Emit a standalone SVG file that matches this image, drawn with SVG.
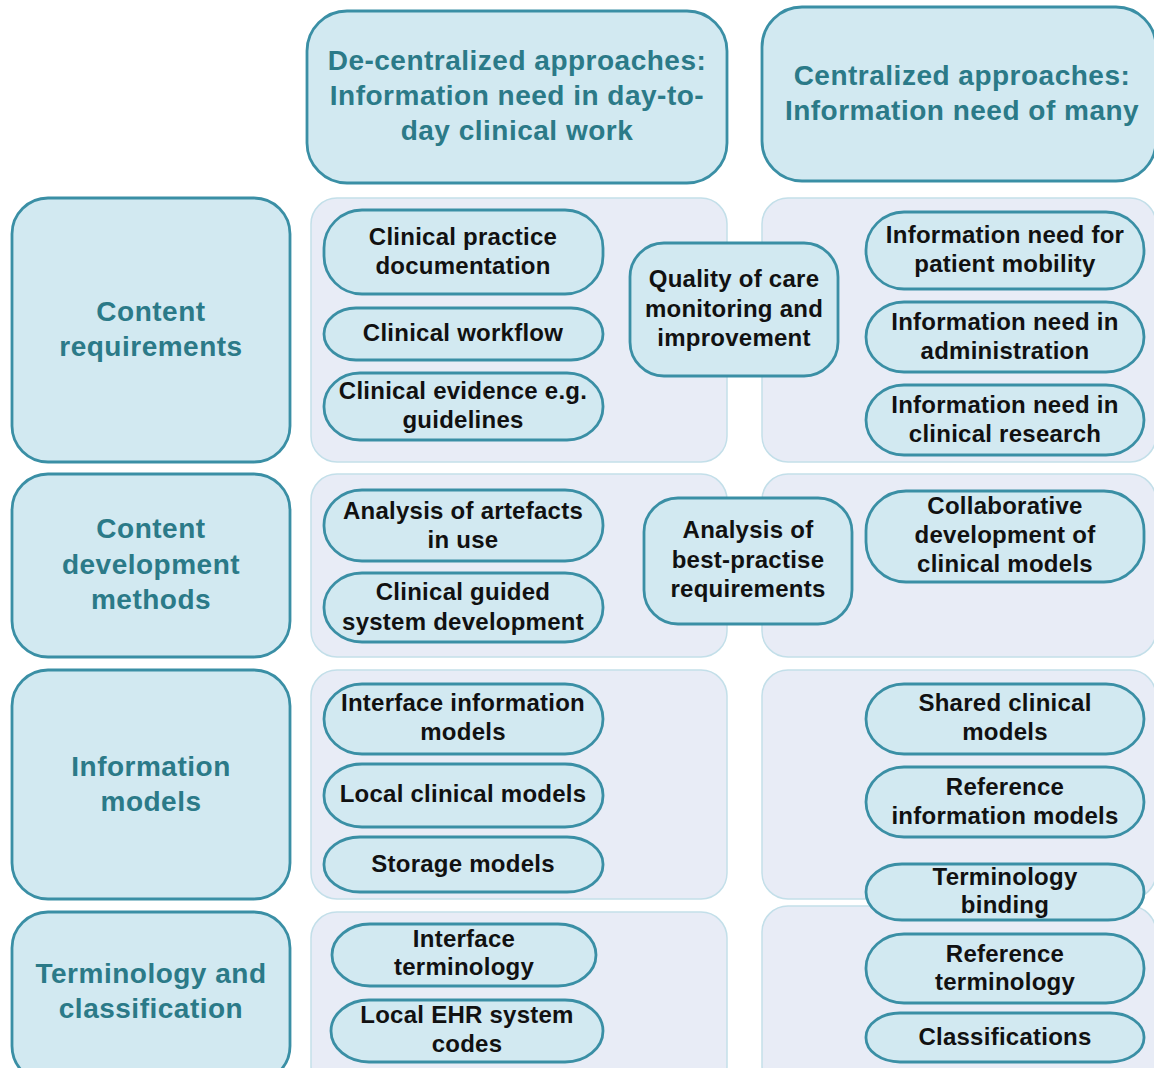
<svg xmlns="http://www.w3.org/2000/svg" width="1154" height="1068" viewBox="0 0 1154 1068">
  <style>
    .box { fill: #d2e9f1; stroke: #3a8fa5; stroke-width: 2.8; }
    .panel { fill: #e8ecf6; stroke: #c3dfe9; stroke-width: 1.5; }
    .ht { font-family: "Liberation Sans", Arial, sans-serif; font-weight: bold; font-size: 28px; letter-spacing: 0.5px; fill: #2b7a88; text-anchor: middle; }
    .nt { font-family: "Liberation Sans", Arial, sans-serif; font-weight: bold; font-size: 24px; letter-spacing: 0.25px; fill: #111111; text-anchor: middle; }
  </style>
  <rect width="1154" height="1068" fill="#ffffff"/>

  <!-- background panels per row and column -->
  <g id="panels">
    <rect class="panel" x="311" y="198" width="416" height="264" rx="26"/>
    <rect class="panel" x="762" y="198" width="394" height="264" rx="26"/>
    <rect class="panel" x="311" y="474" width="416" height="183" rx="26"/>
    <rect class="panel" x="762" y="474" width="394" height="183" rx="26"/>
    <rect class="panel" x="311" y="670" width="416" height="229" rx="26"/>
    <rect class="panel" x="762" y="670" width="394" height="229" rx="26"/>
    <rect class="panel" x="311" y="912" width="416" height="180" rx="26"/>
    <rect class="panel" x="762" y="906" width="394" height="186" rx="26"/>
  </g>

  <!-- column headers -->
  <g id="hdr-decentral">
    <rect class="box" x="307" y="11" width="420" height="172" rx="40"/>
    <text class="ht" x="517" y="70">De-centralized approaches:</text>
    <text class="ht" x="517" y="105">Information need in day-to-</text>
    <text class="ht" x="517" y="140">day clinical work</text>
  </g>
  <g id="hdr-central">
    <rect class="box" x="762" y="7" width="394" height="174" rx="40"/>
    <text class="ht" x="962" y="85">Centralized approaches:</text>
    <text class="ht" x="962" y="120">Information need of many</text>
  </g>

  <!-- row labels -->
  <g id="row-content-req">
    <rect class="box" x="12" y="198" width="278" height="264" rx="36"/>
    <text class="ht" x="151" y="321">Content</text>
    <text class="ht" x="151" y="356">requirements</text>
  </g>
  <g id="row-content-dev">
    <rect class="box" x="12" y="474" width="278" height="183" rx="36"/>
    <text class="ht" x="151" y="538">Content</text>
    <text class="ht" x="151" y="574">development</text>
    <text class="ht" x="151" y="609">methods</text>
  </g>
  <g id="row-info-models">
    <rect class="box" x="12" y="670" width="278" height="229" rx="36"/>
    <text class="ht" x="151" y="776">Information</text>
    <text class="ht" x="151" y="811">models</text>
  </g>
  <g id="row-terminology">
    <rect class="box" x="12" y="912" width="278" height="170" rx="36"/>
    <text class="ht" x="151" y="983">Terminology and</text>
    <text class="ht" x="151" y="1018">classification</text>
  </g>

  <!-- content requirements -->
  <g id="n-clin-practice">
    <rect class="box" x="324" y="210" width="279" height="84" rx="38" ry="38"/>
    <text class="nt" x="463" y="245">Clinical practice</text>
    <text class="nt" x="463" y="274">documentation</text>
  </g>
  <g id="n-clin-workflow">
    <rect class="box" x="324" y="308" width="279" height="52" rx="32" ry="26"/>
    <text class="nt" x="463" y="341">Clinical workflow</text>
  </g>
  <g id="n-clin-evidence">
    <rect class="box" x="324" y="373" width="279" height="67" rx="36" ry="33"/>
    <text class="nt" x="463" y="399">Clinical evidence e.g.</text>
    <text class="nt" x="463" y="428">guidelines</text>
  </g>
  <g id="n-quality">
    <rect class="box" x="630" y="243" width="208" height="133" rx="34"/>
    <text class="nt" x="734" y="287">Quality of care</text>
    <text class="nt" x="734" y="317">monitoring and</text>
    <text class="nt" x="734" y="346">improvement</text>
  </g>
  <g id="n-mobility">
    <rect class="box" x="866" y="212" width="278" height="77" rx="38" ry="38"/>
    <text class="nt" x="1005" y="243">Information need for</text>
    <text class="nt" x="1005" y="272">patient mobility</text>
  </g>
  <g id="n-admin">
    <rect class="box" x="866" y="302" width="278" height="70" rx="38" ry="35"/>
    <text class="nt" x="1005" y="330">Information need in</text>
    <text class="nt" x="1005" y="359">administration</text>
  </g>
  <g id="n-research">
    <rect class="box" x="866" y="385" width="278" height="70" rx="38" ry="35"/>
    <text class="nt" x="1005" y="413">Information need in</text>
    <text class="nt" x="1005" y="442">clinical research</text>
  </g>

  <!-- content development methods -->
  <g id="n-artefacts">
    <rect class="box" x="324" y="490" width="279" height="71" rx="38" ry="35"/>
    <text class="nt" x="463" y="519">Analysis of artefacts</text>
    <text class="nt" x="463" y="548">in use</text>
  </g>
  <g id="n-guided">
    <rect class="box" x="324" y="573" width="279" height="69" rx="38" ry="34"/>
    <text class="nt" x="463" y="600">Clinical guided</text>
    <text class="nt" x="463" y="630">system development</text>
  </g>
  <g id="n-best-practise">
    <rect class="box" x="644" y="498" width="208" height="126" rx="34"/>
    <text class="nt" x="748" y="538">Analysis of</text>
    <text class="nt" x="748" y="568">best-practise</text>
    <text class="nt" x="748" y="597">requirements</text>
  </g>
  <g id="n-collab">
    <rect class="box" x="866" y="491" width="278" height="91" rx="40" ry="40"/>
    <text class="nt" x="1005" y="514">Collaborative</text>
    <text class="nt" x="1005" y="543">development of</text>
    <text class="nt" x="1005" y="572">clinical models</text>
  </g>

  <!-- information models -->
  <g id="n-iface-models">
    <rect class="box" x="324" y="684" width="279" height="70" rx="38" ry="35"/>
    <text class="nt" x="463" y="711">Interface information</text>
    <text class="nt" x="463" y="740">models</text>
  </g>
  <g id="n-local-models">
    <rect class="box" x="324" y="764" width="279" height="63" rx="38" ry="31"/>
    <text class="nt" x="463" y="802">Local clinical models</text>
  </g>
  <g id="n-storage">
    <rect class="box" x="324" y="837" width="279" height="55" rx="36" ry="27"/>
    <text class="nt" x="463" y="872">Storage models</text>
  </g>
  <g id="n-shared">
    <rect class="box" x="866" y="684" width="278" height="70" rx="38" ry="35"/>
    <text class="nt" x="1005" y="711">Shared clinical</text>
    <text class="nt" x="1005" y="740">models</text>
  </g>
  <g id="n-ref-info">
    <rect class="box" x="866" y="767" width="278" height="70" rx="38" ry="35"/>
    <text class="nt" x="1005" y="795">Reference</text>
    <text class="nt" x="1005" y="824">information models</text>
  </g>
  <g id="n-binding">
    <rect class="box" x="866" y="864" width="278" height="56" rx="36" ry="28"/>
    <text class="nt" x="1005" y="885">Terminology</text>
    <text class="nt" x="1005" y="913">binding</text>
  </g>

  <!-- terminology and classification -->
  <g id="n-iface-term">
    <rect class="box" x="332" y="924" width="264" height="62" rx="38" ry="31"/>
    <text class="nt" x="464" y="947">Interface</text>
    <text class="nt" x="464" y="975">terminology</text>
  </g>
  <g id="n-ehr-codes">
    <rect class="box" x="331" y="1000" width="272" height="62" rx="38" ry="31"/>
    <text class="nt" x="467" y="1023">Local EHR system</text>
    <text class="nt" x="467" y="1052">codes</text>
  </g>
  <g id="n-ref-term">
    <rect class="box" x="866" y="934" width="278" height="69" rx="38" ry="34"/>
    <text class="nt" x="1005" y="962">Reference</text>
    <text class="nt" x="1005" y="990">terminology</text>
  </g>
  <g id="n-classif">
    <rect class="box" x="866" y="1013" width="278" height="49" rx="34" ry="24"/>
    <text class="nt" x="1005" y="1045">Classifications</text>
  </g>

  <!-- no connectors in this diagram -->
  <g id="connectors"/>
</svg>
